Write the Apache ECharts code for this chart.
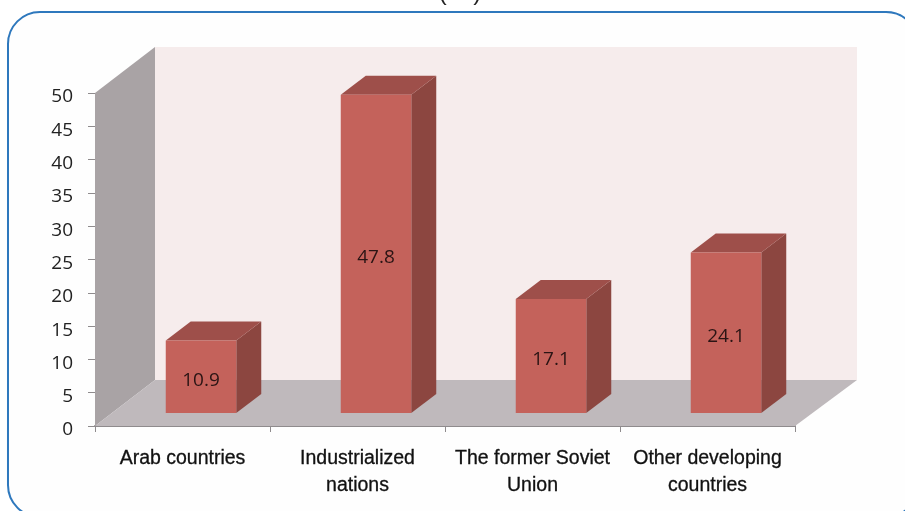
<!DOCTYPE html>
<html><head><meta charset="utf-8">
<style>html,body{margin:0;padding:0;background:#fff;overflow:hidden}#c{width:905px;height:511px}</style>
<script src="https://cdn.jsdelivr.net/npm/echarts@6/dist/echarts.min.js"></script>
</head><body><div id="c"></div>
<script>
const categories = ['Arab countries', 'Industrialized\nnations', 'The former Soviet\nUnion', 'Other developing\ncountries'];
const shares = [10.9, 47.8, 17.1, 24.1];
const axisMax = 50;
const axisStep = 5;

const chart = echarts.init(document.getElementById('c'), null, {renderer: 'canvas'});
const depthX = 60, depthY = -46;
const barDX = 18.5, barDY = -13;
const barDepthX = 25, barDepthY = -19;
const barW = 70.5;

function poly(points, fill) {
  return {type: 'polygon', shape: {points}, style: {fill, stroke: null}};
}
function frame(params, api) {
  const o = api.coord([0, 0]);
  const t = api.coord([0, axisMax]);
  const cw = api.size([1, 0])[0];
  const x0 = o[0] - cw / 2, y0 = o[1], yT = t[1];
  const x1 = x0 + cw * categories.length;
  return {type: 'group', children: [
    poly([[x0 + depthX, yT + depthY], [x1 + depthX + 2, yT + depthY], [x1 + depthX + 2, y0 + depthY], [x0 + depthX, y0 + depthY]], '#f6ecec'),
    poly([[x0, yT], [x0 + depthX, yT + depthY], [x0 + depthX, y0 + depthY], [x0, y0]], '#a9a3a5'),
    poly([[x0, y0], [x0 + depthX, y0 + depthY], [x1 + depthX + 2, y0 + depthY], [x1, y0]], '#bfb9bc')
  ]};
}
function bar3d(params, api) {
  const c = api.value(0), v = api.value(1);
  const b = api.coord([c, 0]), t = api.coord([c, v]);
  const xl = b[0] + barDX - barW / 2, xr = xl + barW;
  const yb = b[1] + barDY, yt = t[1] + barDY;
  return {type: 'group', children: [
    poly([[xr, yt], [xr + barDepthX, yt + barDepthY], [xr + barDepthX, yb + barDepthY], [xr, yb]], '#8c4640'),
    poly([[xl, yt], [xl + barDepthX, yt + barDepthY], [xr + barDepthX, yt + barDepthY], [xr, yt]], '#9e4f4a'),
    poly([[xl, yt], [xr, yt], [xr, yb], [xl, yb]], '#c4625b'),
    {type: 'text', z2: 5, style: {
      text: String(v), x: (xl + xr) / 2, y: (yt + yb) / 2 + 3.5,
      align: 'center', verticalAlign: 'middle',
      font: '19px "Open Sans"', fill: '#2a1414'
    }}
  ]};
}

chart.setOption({
  animation: false,
  backgroundColor: '#ffffff',
  graphic: [
    {type: 'rect', z: -1, silent: true,
     shape: {x: 8, y: 12, width: 910, height: 505, r: 32},
     style: {fill: '#fefefe', stroke: '#2e78bd', lineWidth: 2}},
    {type: 'text', z: 10, silent: true, x: 460, y: 5,
     style: {text: '(    )', font: '24px "Liberation Sans"', fill: '#222', align: 'center', verticalAlign: 'bottom'}}
  ],
  grid: {left: 95, top: 93, width: 700, height: 333},
  xAxis: {
    type: 'category', data: categories, boundaryGap: true,
    axisLine: {show: true, lineStyle: {color: '#8f8b8d', width: 2}},
    axisTick: {show: true, alignWithLabel: false, length: 6, lineStyle: {color: '#8f8b8d'}},
    axisLabel: {
      interval: 0, margin: 19, lineHeight: 27, hideOverlap: false,
      fontFamily: 'Liberation Sans', fontSize: 19.5, color: '#111',
      textBorderColor: '#111', textBorderWidth: 0.3
    }
  },
  yAxis: {
    type: 'value', min: 0, max: axisMax, interval: axisStep,
    axisLine: {show: false},
    axisTick: {show: true, length: 7, lineStyle: {color: '#8f8b8d'}},
    splitLine: {show: false},
    axisLabel: {margin: 22, verticalAlign: 'top', lineHeight: 8, fontFamily: 'Open Sans', fontSize: 19, color: '#222'}
  },
  series: [
    {type: 'custom', silent: true, clip: false, z: 1, renderItem: frame, data: [[0, 0]], encode: {x: 0, y: 1}},
    {type: 'custom', silent: true, clip: false, z: 2, renderItem: bar3d,
     data: shares.map((v, i) => [i, v]), encode: {x: 0, y: 1}}
  ]
});
</script></body></html>
